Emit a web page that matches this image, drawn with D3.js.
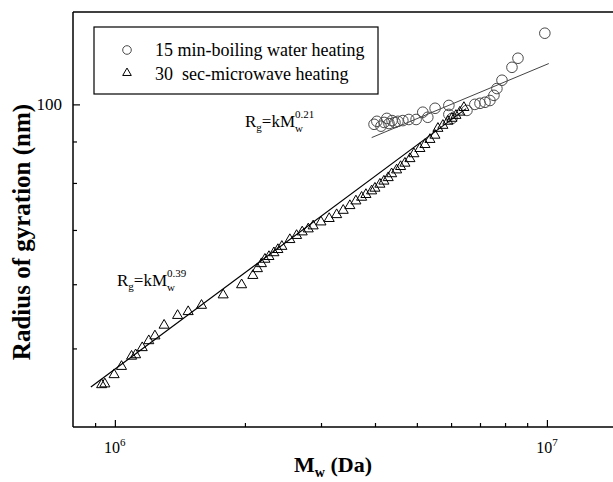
<!DOCTYPE html>
<html>
<head>
<meta charset="utf-8">
<script src="https://cdn.jsdelivr.net/npm/d3@7"></script>
<style>
  body { margin: 0; background: #fff; }
  text { font-family: "Liberation Serif", "Times New Roman", serif; fill: #000; }
</style>
</head>
<body>
<svg id="vis" width="613" height="482"></svg>
<script>
// 15 min-boiling water heating (circles)
var boilMw = [3.98e6, 4.04e6, 4.13e6, 4.20e6, 4.26e6, 4.31e6, 4.38e6, 4.45e6, 4.52e6, 4.64e6,
  4.79e6, 4.98e6, 5.16e6, 5.30e6, 5.51e6, 5.93e6, 5.93e6, 6.03e6, 6.53e6, 6.81e6,
  7.00e6, 7.19e6, 7.38e6, 7.54e6, 7.66e6, 7.87e6, 8.30e6, 8.57e6, 9.89e6];
var boilRg = [94.5, 95.3, 94.0, 95.0, 96.1, 94.7, 95.5, 95.0, 95.3, 95.5,
  95.8, 95.8, 97.8, 96.4, 98.9, 99.7, 97.2, 96.1, 98.3, 100.0,
  100.3, 100.6, 101.1, 102.6, 104.6, 107.1, 111.1, 114.0, 122.4];

// 30 sec-microwave heating (triangles)
var microMw = [9.32e5, 9.48e5, 9.96e5, 1.036e6, 1.093e6, 1.117e6, 1.157e6, 1.198e6, 1.238e6, 1.300e6,
  1.397e6, 1.478e6, 1.587e6, 1.781e6, 1.965e6, 2.086e6, 2.138e6, 2.184e6, 2.225e6, 2.273e6,
  2.334e6, 2.384e6, 2.435e6, 2.541e6, 2.634e6, 2.714e6, 2.803e6, 2.877e6, 2.999e6, 3.134e6,
  3.261e6, 3.377e6, 3.499e6, 3.613e6, 3.725e6, 3.811e6, 3.929e6, 3.999e6, 4.106e6, 4.195e6,
  4.292e6, 4.371e6, 4.489e6, 4.585e6, 4.692e6, 4.819e6, 4.922e6, 5.082e6, 5.220e6, 5.361e6,
  5.506e6, 5.594e6, 5.744e6, 5.899e6, 6.026e6, 6.157e6, 6.289e6, 6.425e6];
var microRg = [45.1, 45.2, 46.4, 47.5, 48.9, 49.1, 50.1, 51.1, 51.8, 53.4,
  54.9, 55.5, 56.5, 58.2, 59.9, 61.5, 62.7, 63.6, 64.4, 64.9,
  65.6, 66.2, 66.8, 68.1, 68.9, 69.6, 70.2, 70.8, 71.6, 72.3,
  73.1, 74.0, 75.0, 76.0, 76.8, 77.4, 78.2, 78.8, 79.7, 80.4,
  81.2, 82.1, 83.0, 83.8, 84.6, 85.7, 86.9, 88.2, 89.2, 90.5,
  91.6, 93.4, 94.2, 95.3, 96.1, 96.9, 97.8, 99.1];

// fitted power-law lines, end points
var boilFitMw = [3.93e6, 1.01e7];
var boilFitRg = [91.0, 112.3];
var microFitMw = [8.8e5, 6.5e6];
var microFitRg = [44.8, 98.8];

var xMajor = [1e6, 1e7];
var xMinor = [9e5, 2e6, 3e6, 4e6, 5e6, 6e6, 7e6, 8e6, 9e6];
var yMajor = [100];
var yMinor = [50, 60, 70, 80, 90];

var legendLabels = ["15 min-boiling water heating", "30  sec-microwave heating"];

var svg = d3.select("#vis");
var margin = { top: 12, left: 73, bottom: 427 };

var x = d3.scaleLog().domain([8e5, 1.5e7]).range([margin.left, 623]);
var y = d3.scaleLog().domain([40, 130]).range([margin.bottom, margin.top]);

// frame top
svg.append("line")
  .attr("x1", margin.left).attr("x2", 640)
  .attr("y1", margin.top).attr("y2", margin.top)
  .style("stroke", "#000").style("stroke-width", 1.5);

var xAxisMinor = svg.append("g")
  .attr("transform", `translate(0,${margin.bottom})`)
  .call(d3.axisBottom(x).tickValues(xMinor).tickSize(-4).tickFormat(""));
var xAxisMajor = svg.append("g")
  .attr("transform", `translate(0,${margin.bottom})`)
  .call(d3.axisBottom(x).tickValues(xMajor).tickSize(-7).tickFormat(""));
var yAxisMinor = svg.append("g")
  .attr("transform", `translate(${margin.left},0)`)
  .call(d3.axisLeft(y).tickValues(yMinor).tickSize(-4).tickFormat(""));
var yAxisMajor = svg.append("g")
  .attr("transform", `translate(${margin.left},0)`)
  .call(d3.axisLeft(y).tickValues(yMajor).tickSize(-7).tickFormat(""));

[xAxisMinor, xAxisMajor, yAxisMinor, yAxisMajor].forEach(function(a) {
  a.select(".domain").remove();
  a.selectAll("line").style("stroke", "#000").style("stroke-width", 1.2);
});

svg.append("line")
  .attr("x1", margin.left).attr("x2", 640)
  .attr("y1", margin.bottom).attr("y2", margin.bottom)
  .style("stroke", "#000").style("stroke-width", 1.5);
svg.append("line")
  .attr("x1", margin.left).attr("x2", margin.left)
  .attr("y1", margin.top).attr("y2", margin.bottom)
  .style("stroke", "#000").style("stroke-width", 1.5);

// tick labels
xMajor.forEach(function(v) {
  var t = svg.append("text")
    .attr("x", x(v))
    .attr("y", margin.bottom + 26)
    .attr("text-anchor", "middle")
    .style("font-size", "16px");
  t.append("tspan").text("10");
  t.append("tspan").attr("dy", -7).style("font-size", "11px").text(Math.round(Math.log10(v)));
});

yMajor.forEach(function(v) {
  svg.append("text")
    .attr("x", margin.left - 11)
    .attr("y", y(v) + 6)
    .attr("text-anchor", "end")
    .style("font-size", "17px")
    .text(v);
});

// axis titles
var xTitle = svg.append("text")
  .attr("x", 333)
  .attr("y", 472)
  .attr("text-anchor", "middle")
  .style("font-size", "22px")
  .style("font-weight", "bold");
xTitle.append("tspan").text("M");
xTitle.append("tspan").attr("dy", 5).style("font-size", "14px").text("w");
xTitle.append("tspan").attr("dy", -5).text(" (Da)");

svg.append("text")
  .attr("transform", "translate(30,232) rotate(-90)")
  .attr("text-anchor", "middle")
  .style("font-size", "25px")
  .style("font-weight", "bold")
  .text("Radius of gyration (nm)");

// fit lines
var line = d3.line().x(d => x(d[0])).y(d => y(d[1]));
svg.append("path")
  .attr("d", line(d3.zip(boilFitMw, boilFitRg)))
  .style("fill", "none").style("stroke", "#444").style("stroke-width", 1);
svg.append("path")
  .attr("d", line(d3.zip(microFitMw, microFitRg)))
  .style("fill", "none").style("stroke", "#000").style("stroke-width", 1.2);

// points
svg.append("g")
  .selectAll("circle")
  .data(d3.zip(boilMw, boilRg))
  .enter()
  .append("circle")
  .attr("cx", d => x(d[0]))
  .attr("cy", d => y(d[1]))
  .attr("r", 5.3)
  .style("fill", "none")
  .style("stroke", "#4a4a4a")
  .style("stroke-width", 1);

var tri = d3.symbol().type(d3.symbolTriangle).size(44);
svg.append("g")
  .selectAll("path")
  .data(d3.zip(microMw, microRg))
  .enter()
  .append("path")
  .attr("d", tri)
  .attr("transform", d => `translate(${x(d[0])},${y(d[1])})`)
  .style("fill", "none")
  .style("stroke", "#000")
  .style("stroke-width", 1);

// power law labels
function powerLabel(px, py, expo) {
  var t = svg.append("text").attr("x", px).attr("y", py).style("font-size", "17px");
  t.append("tspan").text("R");
  t.append("tspan").attr("dy", 4).style("font-size", "11px").text("g");
  t.append("tspan").attr("dy", -4).text("=kM");
  var w = t.node().getComputedTextLength();
  svg.append("text").attr("x", px + w).attr("y", py + 5).style("font-size", "11px").text("w");
  svg.append("text").attr("x", px + w).attr("y", py - 9).style("font-size", "11px").text(expo);
}
powerLabel(245, 127, "0.21");
powerLabel(117, 286, "0.39");

// legend
var legend = svg.append("g");
legend.append("rect")
  .attr("x", 94).attr("y", 27).attr("width", 284).attr("height", 67)
  .style("fill", "#fff").style("stroke", "#000").style("stroke-width", 1.2);
legend.append("circle")
  .attr("cx", 127).attr("cy", 50).attr("r", 4.3)
  .style("fill", "none").style("stroke", "#4a4a4a").style("stroke-width", 1);
legend.append("path")
  .attr("d", d3.symbol().type(d3.symbolTriangle).size(32))
  .attr("transform", "translate(127,73)")
  .style("fill", "none").style("stroke", "#000").style("stroke-width", 1);
legendLabels.forEach(function(s, i) {
  legend.append("text")
    .attr("x", 155)
    .attr("y", 56 + i * 24)
    .style("font-size", "18px")
    .style("white-space", "pre")
    .attr("xml:space", "preserve")
    .text(s);
});
</script>
</body>
</html>
